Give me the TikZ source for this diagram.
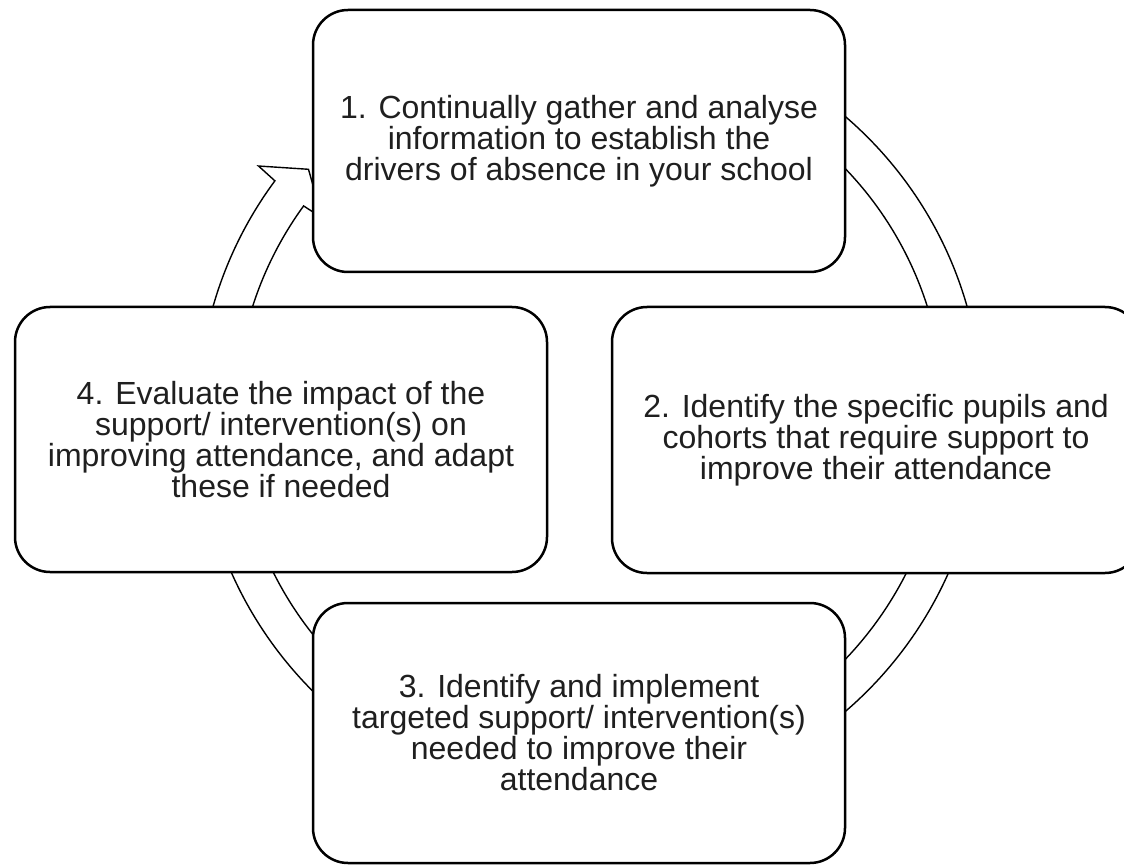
\documentclass[tikz,border=0pt]{standalone}
\usepackage{fontspec}
\setmainfont{Liberation Sans}
\begin{document}
\begin{tikzpicture}[x=1pt,y=-1pt,
  stage/.style={draw=black, line width=2.5pt, fill=white, rounded corners=35pt,
    minimum width=532pt, minimum height=263pt, inner sep=0pt, outer sep=0pt,
    align=center, font=\fontsize{32}{31}\selectfont, text=black!88},
  band/.style={draw=black, line width=1.4pt, fill=white, line join=miter}]
\clip (0,0) rectangle (1124,866);
\fill[white] (0,0) rectangle (1124,866);
% circular arrow behind the boxes
\begin{scope}[shift={(590,414)}]
  \path[band] (90:392pt) arc[start angle=90, end angle=-216.5, radius=392pt]
    -- (143.2:414pt) -- (139:373pt) -- (143.8:332pt) -- (144:354pt)
    arc[start angle=-216, end angle=90, radius=354pt] -- cycle;
\end{scope}
% stages
\node[stage, minimum height=262pt] (s1) at (579,141)
  {1. Continually gather and analyse\\information to establish the\\drivers of absence in your school};
\node[stage, minimum width=528pt, minimum height=266pt] (s2) at (876,440)
  {2. Identify the specific pupils and\\cohorts that require support to\\improve their attendance};
\node[stage, minimum height=260pt] (s3) at (579,733)
  {3. Identify and implement\\targeted support/ intervention(s)\\needed to improve their\\attendance};
\node[stage, minimum height=265pt] (s4) at (281,439.5)
  {4. Evaluate the impact of the\\support/ intervention(s) on\\improving attendance, and adapt\\these if needed};
\end{tikzpicture}
\end{document}
